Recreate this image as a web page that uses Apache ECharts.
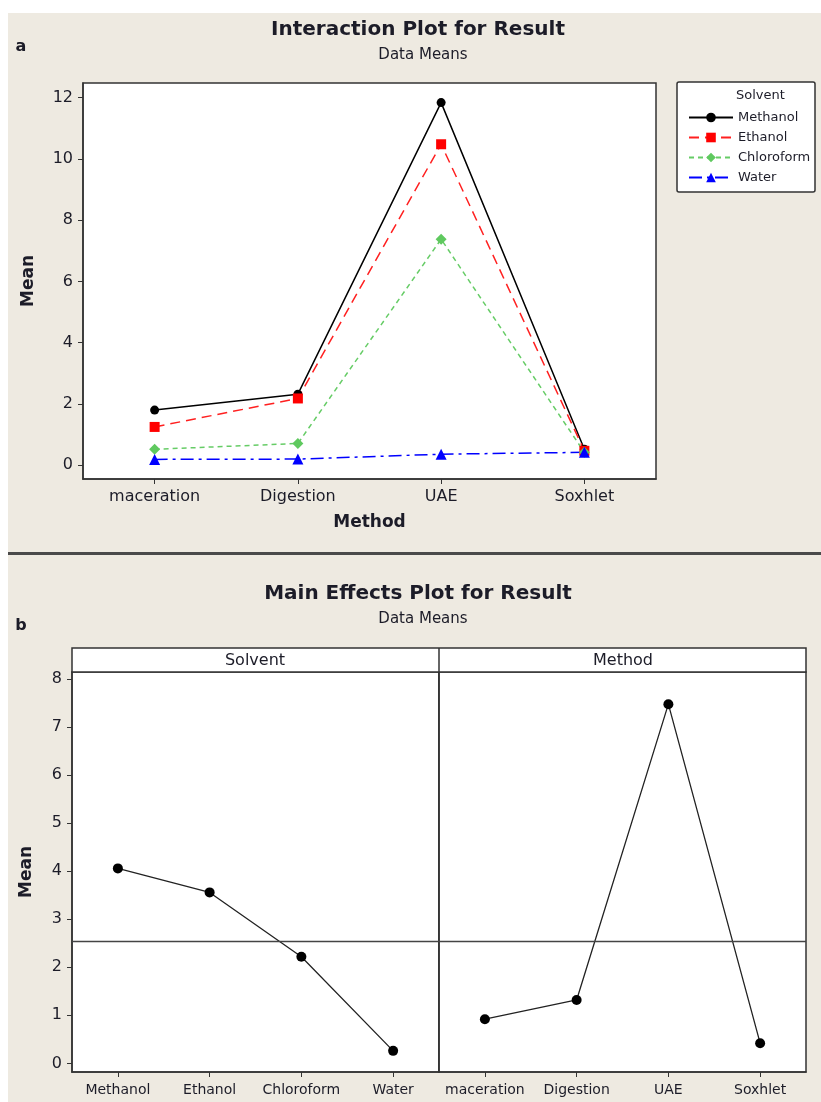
<!DOCTYPE html>
<html>
<head>
<meta charset="utf-8">
<script src="https://cdn.jsdelivr.net/npm/echarts@6/dist/echarts.min.js"></script>
<style>
html,body{margin:0;padding:0;background:#fff;}
#bg{position:absolute;left:8px;top:13px;width:813px;height:1089px;background:#EEEAE1;}
#main{position:absolute;left:0;top:0;width:821px;height:1102px;}
</style>
</head>
<body>
<div id="bg"></div>
<div id="main"></div>
<script>
// ---- data ----
const methods = ['maceration', 'Digestion', 'UAE', 'Soxhlet'];
const solvents = ['Methanol', 'Ethanol', 'Chloroform', 'Water'];
const methanol = [1.80, 2.32, 11.84, 0.52];
const ethanol = [1.25, 2.18, 10.48, 0.47];
const chloroform = [0.52, 0.71, 7.38, 0.42];
const water = [0.19, 0.20, 0.36, 0.42];
const solventMeans = [4.06, 3.56, 2.22, 0.26];
const methodMeans = [0.92, 1.32, 7.48, 0.42];
const grandMean = 2.55;
const topYTicks = [0, 2, 4, 6, 8, 10, 12];
const bottomYTicks = [0, 1, 2, 3, 4, 5, 6, 7, 8];

const FONT = '"DejaVu Sans", Verdana, sans-serif';
const TXT = '#1c1c28';
const FRAME = '#333';

const chart = echarts.init(document.getElementById('main'), null, {renderer: 'canvas'});

function gridCfg(left, top, width, height) {
  return {left, top, width, height, show: true, backgroundColor: '#fff',
          borderColor: FRAME, borderWidth: 1.5, containLabel: false};
}
function catAxis(gridIndex, data, fontSize, margin, name, nameGap) {
  return {
    type: 'category', gridIndex, data, boundaryGap: true,
    axisLine: {show: true, onZero: false, lineStyle: {color: FRAME, width: 1.5}},
    axisTick: {show: true, alignWithLabel: true, interval: 0, inside: false, length: 5, lineStyle: {color: FRAME}},
    axisLabel: {color: TXT, fontSize, fontFamily: FONT, margin, interval: 0, hideOverlap: false},
    splitLine: {show: false},
    name: name || '', nameLocation: 'middle', nameGap: nameGap || 30,
    nameTextStyle: {color: TXT, fontSize: 17, fontWeight: 'bold', fontFamily: FONT}
  };
}
function valAxis(gridIndex, min, max, ticks, showLabels, name, nameGap) {
  return {
    type: 'value', gridIndex, min, max,
    axisLine: {show: true, onZero: false, lineStyle: {color: FRAME, width: 1.5}},
    axisTick: {show: showLabels, inside: false, length: 5, lineStyle: {color: FRAME}, customValues: ticks},
    axisLabel: {show: showLabels, color: TXT, fontSize: 16, fontFamily: FONT, margin: 10, customValues: ticks},
    splitLine: {show: false},
    name: name || '', nameLocation: 'middle', nameGap: nameGap || 40, nameRotate: 90,
    nameTextStyle: {color: TXT, fontSize: 17, fontWeight: 'bold', fontFamily: FONT}
  };
}

function text(x, y, t, font, align) {
  return {type: 'text', x, y, z: 20,
          style: {text: t, font, fill: TXT, textAlign: align || 'center', textVerticalAlign: 'middle'}};
}

const refLine = {
  silent: true, symbol: ['none', 'none'], label: {show: false},
  lineStyle: {color: '#444', type: 'solid', width: 1.3},
  data: [{yAxis: grandMean}]
};

const option = {
  backgroundColor: 'transparent',
  animation: false,
  grid: [
    gridCfg(83, 83, 573, 396),
    gridCfg(72, 672, 367, 400),
    gridCfg(439, 672, 367, 400)
  ],
  xAxis: [
    catAxis(0, methods, 16, 10, 'Method', 35),
    catAxis(1, solvents, 14, 11),
    catAxis(2, methods, 14, 11)
  ],
  yAxis: [
    valAxis(0, -0.45, 12.48, topYTicks, true, 'Mean', 46),
    valAxis(1, -0.18, 8.15, bottomYTicks, true, 'Mean', 37),
    valAxis(2, -0.18, 8.15, bottomYTicks, false)
  ],
  legend: {
    orient: 'vertical', left: 683, top: 105, z: 5,
    itemWidth: 44, itemHeight: 12, itemGap: 5,
    textStyle: {color: TXT, fontSize: 13, fontFamily: FONT, padding: [0, 0, 0, 0], lineHeight: 15},
    data: solvents
  },
  graphic: {elements: [
    {type: 'rect', z: 1, shape: {x: 8, y: 552, width: 813, height: 3}, style: {fill: '#4a4a4a'}},
    {type: 'rect', z: 1, shape: {x: 677, y: 82, width: 138, height: 110, r: 2},
     style: {fill: '#fff', stroke: FRAME, lineWidth: 1.5}},
    {type: 'rect', z: 1, shape: {x: 72, y: 648, width: 734, height: 24},
     style: {fill: '#fff', stroke: FRAME, lineWidth: 1.5}},
    {type: 'line', z: 2, shape: {x1: 439, y1: 648, x2: 439, y2: 672}, style: {stroke: FRAME, lineWidth: 1.5}},
    text(418, 30, 'Interaction Plot for Result', 'bold 20px ' + FONT),
    text(423, 55, 'Data Means', '15px ' + FONT),
    text(21, 47, 'a', 'bold 16px ' + FONT),
    text(736, 96, 'Solvent', '13px ' + FONT, 'left'),
    text(418, 594, 'Main Effects Plot for Result', 'bold 20px ' + FONT),
    text(423, 619, 'Data Means', '15px ' + FONT),
    text(21, 626, 'b', 'bold 16px ' + FONT),
    text(255, 661, 'Solvent', '16px ' + FONT),
    text(623, 661, 'Method', '16px ' + FONT)
  ]},
  series: [
    {name: 'Methanol', type: 'line', xAxisIndex: 0, yAxisIndex: 0, data: methanol,
     symbol: 'circle', symbolSize: 9, color: '#000',
     lineStyle: {color: '#000', width: 1.5, type: 'solid'}, itemStyle: {color: '#000'}},
    {name: 'Ethanol', type: 'line', xAxisIndex: 0, yAxisIndex: 0, data: ethanol,
     symbol: 'rect', symbolSize: 10, color: '#FF0000',
     lineStyle: {color: '#FF2020', width: 1.5, type: [10, 6]}, itemStyle: {color: '#FF0000'}},
    {name: 'Chloroform', type: 'line', xAxisIndex: 0, yAxisIndex: 0, data: chloroform,
     symbol: 'diamond', symbolSize: 11, color: '#5FC95F',
     lineStyle: {color: '#66CC66', width: 1.5, type: [5, 4]}, itemStyle: {color: '#5FC95F'}},
    {name: 'Water', type: 'line', xAxisIndex: 0, yAxisIndex: 0, data: water,
     symbol: 'triangle', symbolSize: 11, color: '#0000FF',
     lineStyle: {color: '#0000FF', width: 1.5, type: [13, 5, 3, 5]}, itemStyle: {color: '#0000FF'}},
    {name: 'SolventMain', type: 'line', xAxisIndex: 1, yAxisIndex: 1, data: solventMeans,
     symbol: 'circle', symbolSize: 10, lineStyle: {color: '#222', width: 1.3},
     itemStyle: {color: '#000'}, markLine: refLine},
    {name: 'MethodMain', type: 'line', xAxisIndex: 2, yAxisIndex: 2, data: methodMeans,
     symbol: 'circle', symbolSize: 10, lineStyle: {color: '#222', width: 1.3},
     itemStyle: {color: '#000'}, markLine: refLine}
  ]
};
chart.setOption(option);
</script>
</body>
</html>
